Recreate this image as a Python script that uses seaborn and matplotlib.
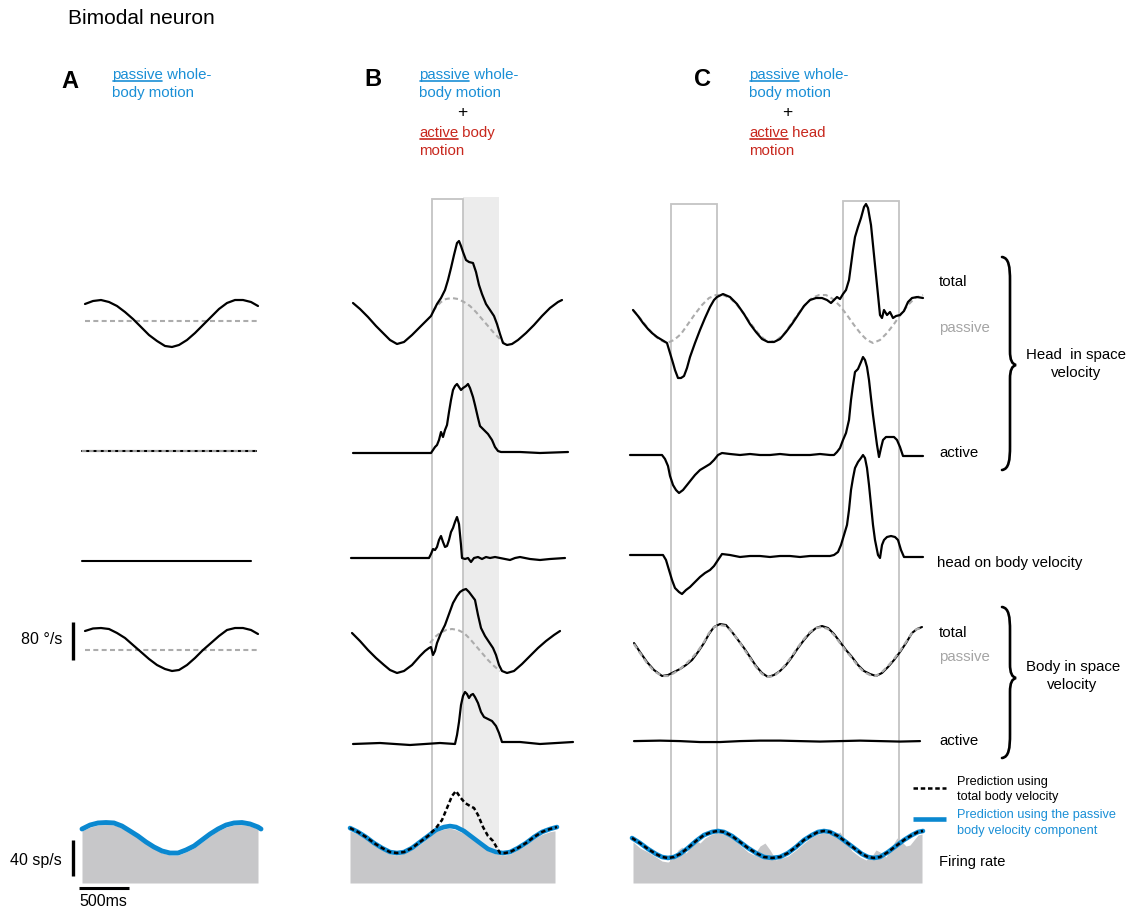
import matplotlib
matplotlib.use("Agg")
import matplotlib.pyplot as plt
import seaborn as sns
from matplotlib.path import Path
from matplotlib.patches import PathPatch, Rectangle
from matplotlib.lines import Line2D

# ======================= DATA (time in ms, velocity in deg/s, rate in sp/s) =======================
# ---- Panel A : passive whole-body motion ----
a_t = [30, 110, 190, 270, 350, 430, 510, 590, 670, 750, 830, 900, 970, 1050, 1130, 1210, 1290, 1370, 1450, 1530, 1610, 1690, 1760]
a_head_total = [35.8, 42.1, 44.2, 40.0, 31.6, 18.9, 4.2, -12.6, -29.5, -42.1, -52.6, -54.7, -50.5, -40.0, -25.3, -8.4, 8.4, 25.3, 37.9, 44.2, 44.2, 40.0, 31.6]
a_body_total = [40.0, 45.3, 46.3, 44.2, 35.8, 25.3, 10.5, -4.2, -18.9, -31.6, -40.0, -44.2, -42.1, -31.6, -16.8, 0.0, 14.7, 29.5, 42.1, 46.3, 46.3, 42.1, 33.7]
a_passive_t = [30, 1760]
a_passive = [0, 0]
a_head_active_t = [0, 1740]
a_head_active = [0, 0]
a_hob_t = [0, 1690]
a_hob = [0, 0]
a_rate_t = [0, 80, 160, 240, 320, 400, 480, 560, 640, 720, 800, 880, 960, 1040, 1120, 1200, 1280, 1360, 1440, 1520, 1600, 1680, 1760, 1790]
a_pred = [60.0, 64.4, 66.7, 67.2, 66.7, 63.3, 57.8, 52.2, 45.6, 40.0, 35.6, 33.3, 33.3, 36.7, 41.1, 47.8, 54.4, 60.0, 64.4, 66.7, 67.2, 65.6, 62.2, 60.0]
a_fill_t = [0, 80, 160, 240, 320, 400, 480, 560, 640, 720, 800, 880, 960, 1040, 1120, 1200, 1280, 1360, 1440, 1520, 1600, 1680, 1760]
a_fill = [58, 62, 64.5, 65, 64.5, 61, 55.5, 50, 43.5, 38, 33.5, 31, 31, 34.5, 39, 45.5, 52, 58, 62, 64.5, 65, 63.5, 60]

# ---- Panel B : passive whole-body + active body motion ----
b_head_total_t = [30, 100, 180, 260, 340, 400, 470, 540, 620, 700, 770, 810, 840, 870, 910, 950, 980, 1010, 1040, 1070, 1090, 1110, 1130, 1160, 1190, 1230, 1260, 1290, 1320, 1360, 1400, 1440, 1470, 1500, 1530, 1570, 1620, 1680, 1760, 1840, 1920, 2000, 2080, 2120]
b_head_total = [37.9, 25.3, 8.4, -10.5, -27.4, -40.0, -48.4, -44.2, -29.5, -12.6, 2.1, 10.5, 23.2, 35.8, 48.4, 65.3, 86.3, 111.6, 138.9, 164.2, 168.4, 157.9, 145.3, 128.4, 124.2, 122.1, 103.2, 75.8, 56.8, 35.8, 23.2, 10.5, -6.3, -27.4, -46.3, -50.5, -48.4, -40.0, -25.3, -8.4, 10.5, 27.4, 40.0, 44.2]
b_head_passive_t = [830, 870, 910, 960, 1020, 1080, 1140, 1200, 1260, 1320, 1380, 1440, 1500, 1540]
b_head_passive = [21.1, 31.6, 40.0, 46.3, 48.4, 46.3, 40.0, 31.6, 18.9, 4.2, -10.5, -25.3, -37.9, -46.3]
b_head_active_t = [30, 500, 810, 830, 850, 870, 890, 910, 930, 950, 970, 990, 1010, 1030, 1050, 1070, 1090, 1110, 1130, 1160, 1180, 1200, 1230, 1250, 1280, 1300, 1340, 1380, 1420, 1450, 1480, 1510, 1700, 1900, 2180]
b_head_active = [0, 0, 0, 6.3, 12.6, 16.8, 27.4, 44.2, 33.7, 48.4, 58.9, 86.3, 111.6, 132.6, 141.0, 145.3, 138.9, 132.6, 136.8, 141.0, 145.3, 136.8, 117.9, 101.0, 73.7, 56.8, 48.4, 40.0, 27.4, 12.6, 4.2, 2.1, 2.1, 0, 2.1]
b_hob_t = [10, 500, 790, 810, 830, 850, 870, 890, 910, 930, 950, 970, 990, 1010, 1030, 1050, 1070, 1090, 1110, 1120, 1150, 1180, 1210, 1240, 1280, 1320, 1360, 1400, 1450, 1500, 1600, 1650, 1700, 1800, 1900, 2000, 2150]
b_hob = [0, 0, 0, 8.4, 18.9, 16.8, 23.2, 37.9, 46.3, 33.7, 23.2, 25.3, 37.9, 54.7, 63.2, 75.8, 86.3, 71.6, 27.4, 0, -2.1, 0, -8.4, 0, 2.1, -2.1, 2.1, 0, 2.1, 0, -4.2, 0, 2.1, -2.1, -4.2, -2.1, 0]
b_body_total_t = [20, 100, 180, 260, 340, 400, 470, 540, 620, 700, 750, 790, 810, 830, 850, 870, 910, 950, 990, 1030, 1070, 1100, 1130, 1160, 1190, 1220, 1250, 1280, 1310, 1350, 1390, 1430, 1460, 1490, 1520, 1570, 1640, 1720, 1800, 1880, 1960, 2040, 2100]
b_body_total = [35.8, 18.9, 0, -16.8, -31.6, -42.1, -48.4, -44.2, -31.6, -12.6, -2.1, 4.2, 6.3, -10.5, -2.1, 14.7, 35.8, 52.6, 75.8, 98.9, 113.7, 122.1, 126.3, 128.4, 122.1, 113.7, 105.3, 73.7, 46.3, 29.5, 16.8, 4.2, -10.5, -31.6, -44.2, -48.4, -44.2, -29.5, -12.6, 4.2, 18.9, 31.6, 40.0]
b_body_passive_t = [800, 850, 900, 960, 1020, 1080, 1140, 1200, 1260, 1320, 1380, 1440, 1500]
b_body_passive = [14.7, 27.4, 35.8, 42.1, 44.2, 42.1, 35.8, 23.2, 8.4, -6.3, -21.1, -33.7, -44.2]
b_body_active_t = [30, 300, 600, 900, 1050, 1070, 1090, 1110, 1130, 1150, 1170, 1190, 1210, 1230, 1250, 1280, 1310, 1340, 1380, 1420, 1460, 1490, 1520, 1700, 1900, 2230]
b_body_active = [-2.1, 0, -4.2, 0, -2.1, 16.8, 44.2, 80.0, 98.9, 107.4, 103.2, 94.7, 101.0, 103.2, 96.8, 84.2, 65.3, 54.7, 50.5, 46.3, 35.8, 21.1, 2.1, 2.1, -2.1, 2.1]
b_rate_t = [0, 80, 160, 240, 320, 400, 470, 540, 620, 700, 780, 860, 940, 1000, 1060, 1140, 1220, 1300, 1380, 1460, 1530, 1600, 1680, 1760, 1840, 1920, 2000, 2070]
b_pred_passive = [61.1, 56.7, 51.1, 44.4, 38.9, 34.4, 33.3, 34.4, 38.9, 45.6, 52.2, 58.9, 62.2, 63.3, 62.2, 57.8, 51.1, 44.4, 37.8, 34.4, 33.3, 34.4, 38.9, 44.4, 51.1, 56.7, 60.0, 62.2]
b_pred_total_t = [0, 80, 160, 240, 320, 400, 470, 540, 620, 700, 780, 860, 920, 970, 1020, 1060, 1100, 1150, 1200, 1240, 1280, 1330, 1380, 1430, 1470, 1500, 1550, 1600, 1680, 1760, 1840, 1920, 2000, 2070]
b_pred_total = [61.1, 56.7, 51.1, 44.4, 38.9, 34.4, 33.3, 34.4, 38.9, 45.6, 52.2, 61.1, 70.0, 83.3, 96.7, 102.2, 95.6, 88.9, 85.6, 83.3, 75.6, 62.2, 52.2, 46.7, 38.9, 33.3, 33.3, 34.4, 38.9, 44.4, 51.1, 56.7, 60.0, 62.2]
b_fill_t = [0, 80, 160, 240, 320, 400, 470, 540, 620, 700, 780, 860, 940, 1000, 1060, 1140, 1220, 1300, 1380, 1460, 1530, 1600, 1680, 1760, 1840, 1920, 2000, 2050]
b_fill = [58, 54, 49, 42, 37, 32, 31, 33, 37, 43, 50, 57, 60, 61, 59, 55, 49, 42, 36, 32, 31, 32, 37, 42, 49, 54, 57, 58]
b_window = [820, 1130]          # outlined interval
b_band = [1130, 1490]           # shaded interval

# ---- Panel C : passive whole-body + active head motion ----
c_head_total_t = [30, 80, 130, 180, 220, 270, 320, 370, 400, 430, 450, 480, 510, 540, 570, 600, 650, 700, 750, 800, 840, 870, 930, 1000, 1070, 1140, 1200, 1260, 1320, 1380, 1440, 1500, 1560, 1620, 1680, 1740, 1800, 1860, 1920, 1970, 2010, 2040, 2070, 2100, 2130, 2160, 2190, 2210, 2230, 2250, 2280, 2310, 2340, 2360, 2380, 2410, 2440, 2470, 2500, 2520, 2540, 2570, 2600, 2630, 2660, 2700, 2740, 2780, 2820, 2870, 2930]
c_head_total = [23.2, 10.5, -4.2, -16.8, -25.3, -33.7, -40.0, -46.3, -67.4, -88.4, -103.2, -120.0, -120.0, -115.8, -98.9, -75.8, -46.3, -18.9, 6.3, 29.5, 44.2, 50.5, 56.8, 50.5, 35.8, 14.7, -6.3, -23.2, -37.9, -44.2, -44.2, -37.9, -23.2, -6.3, 12.6, 31.6, 44.2, 48.4, 48.4, 44.2, 37.9, 44.2, 50.5, 46.3, 56.8, 65.3, 86.3, 117.9, 149.5, 176.8, 197.9, 216.8, 240.0, 246.3, 237.9, 202.1, 138.9, 75.8, 12.6, 6.3, 23.2, 12.6, 18.9, 6.3, 10.5, 12.6, 21.1, 40.0, 48.4, 50.5, 48.4]
c_head_passive_t = [30, 100, 170, 240, 300, 370, 440, 510, 580, 650, 720, 790, 860, 930, 1000, 1070, 1140, 1210, 1280, 1340, 1400, 1470, 1540, 1610, 1680, 1750, 1820, 1890, 1960, 2030, 2100, 2170, 2240, 2310, 2370, 2430, 2500, 2570, 2640, 2710, 2780, 2850, 2930]
c_head_passive = [23.2, 6.3, -12.6, -29.5, -40.0, -46.3, -40.0, -27.4, -6.3, 14.7, 33.7, 48.4, 54.7, 54.7, 48.4, 33.7, 14.7, -6.3, -25.3, -37.9, -44.2, -40.0, -27.4, -6.3, 14.7, 33.7, 48.4, 54.7, 54.7, 46.3, 31.6, 12.6, -8.4, -27.4, -40.0, -46.3, -40.0, -25.3, -6.3, 14.7, 33.7, 48.4, 54.7]
c_head_active_t = [0, 200, 320, 350, 380, 400, 430, 460, 490, 530, 570, 610, 650, 700, 750, 800, 840, 880, 920, 1000, 1100, 1200, 1300, 1400, 1500, 1600, 1700, 1800, 1900, 2000, 2040, 2070, 2100, 2130, 2160, 2190, 2210, 2230, 2250, 2280, 2310, 2330, 2350, 2370, 2390, 2410, 2430, 2450, 2470, 2490, 2510, 2530, 2560, 2600, 2640, 2670, 2700, 2730, 2780, 2850, 2930]
c_head_active = [0, 0, 0, -8.4, -23.2, -44.2, -63.2, -73.7, -80.0, -73.7, -63.2, -52.6, -42.1, -31.6, -25.3, -18.9, -10.5, 0, 4.2, 2.1, 0, 2.1, 0, 0, 2.1, 0, 0, 0, 2.1, 0, 0, 6.3, 14.7, 31.6, 46.3, 73.7, 115.8, 147.4, 174.7, 181.1, 195.8, 206.3, 200.0, 185.3, 157.9, 120.0, 84.2, 52.6, 21.1, -4.2, 14.7, 31.6, 37.9, 37.9, 37.9, 31.6, 16.8, -2.1, -2.1, -2.1, -2.1]
c_hob_t = [0, 200, 330, 360, 390, 420, 450, 490, 520, 560, 600, 650, 700, 750, 800, 840, 880, 920, 1000, 1100, 1200, 1300, 1400, 1500, 1600, 1700, 1800, 1900, 2000, 2040, 2080, 2110, 2140, 2170, 2190, 2210, 2230, 2250, 2280, 2310, 2330, 2350, 2370, 2390, 2410, 2430, 2450, 2480, 2500, 2520, 2540, 2570, 2610, 2650, 2680, 2710, 2740, 2800, 2930]
c_hob = [2.1, 2.1, 2.1, -8.4, -29.5, -50.5, -67.4, -75.8, -80.0, -71.6, -65.3, -54.7, -44.2, -35.8, -29.5, -21.1, -8.4, 4.2, 2.1, -2.1, 0, 0, -2.1, 0, 0, -2.1, 0, 0, 0, 2.1, 8.4, 23.2, 44.2, 65.3, 96.8, 138.9, 164.2, 185.3, 197.9, 206.3, 212.6, 206.3, 185.3, 149.5, 107.4, 65.3, 33.7, 2.1, -4.2, 23.2, 33.7, 40.0, 42.1, 40.0, 33.7, 12.6, -2.1, -2.1, -2.1]
c_body_t = [40, 100, 170, 240, 320, 380, 440, 500, 560, 620, 680, 740, 790, 840, 900, 960, 1020, 1080, 1140, 1200, 1260, 1320, 1380, 1440, 1500, 1560, 1620, 1680, 1740, 1800, 1860, 1920, 1980, 2040, 2100, 2160, 2220, 2280, 2340, 2400, 2460, 2520, 2580, 2640, 2700, 2760, 2820, 2870, 2920]
c_body_total = [14.7, -4.2, -25.3, -42.1, -54.7, -52.6, -46.3, -40.0, -31.6, -21.1, -4.2, 14.7, 33.7, 48.4, 54.7, 52.6, 37.9, 21.1, 4.2, -14.7, -33.7, -48.4, -56.8, -52.6, -44.2, -31.6, -14.7, 4.2, 21.1, 35.8, 46.3, 50.5, 46.3, 33.7, 16.8, 0, -14.7, -31.6, -44.2, -50.5, -54.7, -48.4, -35.8, -21.1, -4.2, 14.7, 35.8, 44.2, 48.4]
c_body_passive = [12.6, -6.3, -27.4, -44.2, -54.7, -54.7, -48.4, -40.0, -29.5, -16.8, -2.1, 16.8, 35.8, 48.4, 52.6, 50.5, 37.9, 21.1, 2.1, -16.8, -35.8, -50.5, -56.8, -54.7, -44.2, -29.5, -12.6, 6.3, 23.2, 37.9, 46.3, 48.4, 44.2, 31.6, 14.7, -2.1, -16.8, -33.7, -46.3, -52.6, -54.7, -46.3, -33.7, -18.9, -2.1, 16.8, 35.8, 44.2, 46.3]
c_body_active_t = [40, 300, 500, 700, 900, 1100, 1300, 1500, 1700, 1900, 2100, 2300, 2500, 2700, 2900]
c_body_active = [4, 5, 4, 2, 2, 4, 5, 5, 4, 3, 4, 5, 4, 3, 4]
c_rate_t = [20, 100, 180, 260, 320, 380, 440, 500, 580, 660, 740, 820, 880, 940, 1020, 1100, 1180, 1260, 1340, 1420, 1500, 1580, 1660, 1740, 1820, 1880, 1940, 2000, 2080, 2160, 2240, 2320, 2380, 2440, 2500, 2580, 2660, 2740, 2820, 2880, 2930]
c_pred_passive = [50.0, 44.4, 37.8, 32.2, 28.9, 27.8, 28.9, 32.2, 38.9, 46.7, 53.3, 56.7, 57.8, 56.7, 52.2, 45.6, 38.9, 33.3, 28.9, 27.8, 28.9, 33.3, 40.0, 47.8, 53.3, 56.7, 57.8, 56.7, 52.2, 45.6, 38.9, 32.2, 28.9, 27.8, 28.9, 34.4, 41.1, 47.8, 53.3, 56.7, 57.8]
c_pred_total = [50.0, 44.4, 37.8, 32.2, 28.9, 27.8, 28.9, 32.2, 38.9, 46.7, 53.3, 56.7, 57.8, 56.7, 52.2, 45.6, 38.9, 33.3, 28.9, 27.8, 28.9, 33.3, 40.0, 47.8, 53.3, 56.7, 57.8, 56.7, 52.2, 45.6, 38.9, 32.2, 28.9, 27.8, 28.9, 34.4, 41.1, 47.8, 53.3, 56.7, 57.8]
c_fill_t = [30, 100, 180, 260, 320, 380, 440, 480, 520, 560, 600, 650, 700, 750, 820, 880, 940, 1020, 1100, 1180, 1240, 1300, 1350, 1400, 1460, 1520, 1580, 1660, 1740, 1820, 1880, 1940, 2000, 2060, 2100, 2150, 2220, 2300, 2360, 2420, 2460, 2500, 2560, 2620, 2670, 2720, 2760, 2800, 2840, 2880, 2920]
c_fill = [45.6, 38.9, 34.4, 28.9, 24.4, 23.3, 27.8, 36.7, 40.0, 33.3, 38.9, 47.8, 44.4, 50.0, 54.4, 55.6, 54.4, 50.0, 42.2, 34.4, 31.1, 41.1, 44.4, 36.7, 25.6, 27.8, 30.0, 36.7, 44.4, 51.1, 54.4, 55.6, 54.4, 54.4, 56.7, 47.8, 35.6, 28.9, 25.6, 30.0, 36.7, 34.4, 28.9, 41.1, 50.0, 45.6, 41.1, 42.2, 47.8, 53.3, 54.4]
c_windows = [[410, 870], [2130, 2690]]

# scale bars
scale_deg = 80     # deg/s
scale_rate = 40    # sp/s
scale_time = 500   # ms

# ======================= LAYOUT / STYLE =======================
W, H = 1129, 909
MS_PER_PX = 10.0
K_DEG = 38 / 80.0      # px per deg/s
K_RATE = 36 / 40.0     # px per sp/s

BLUE_TXT = '#1a8fd6'
BLUE_LINE = '#0a88d0'
RED_TXT = '#c8281e'
GRAY_DASH = '#acacac'
GRAY_FILL = '#c7c7c9'
BAND = '#ececec'
RECT = '#c4c4c4'
GRAY_TXT = '#a5a5a5'

sns.set_theme(style="white")
plt.rcParams['font.family'] = ['Liberation Sans', 'DejaVu Sans']

fig = plt.figure(figsize=(W / 100, H / 100), dpi=100)
fig.patch.set_facecolor('white')
_n = [0]
_axes = []


def new_axes(x0, yb=None, k=None):
    _n[0] += 1
    ax = fig.add_axes([0, 0, 1, 1], label=f"ax{_n[0]}")
    ax.patch.set_alpha(0)
    xl = (-x0 * MS_PER_PX, (W - x0) * MS_PER_PX)
    yl = (H, 0) if yb is None else (-(H - yb) / k, yb / k)
    _axes.append((ax, xl, yl))
    return ax


def trace(ax, t, v, color='black', lw=1.5, ls='-', z=3):
    sns.lineplot(x=t, y=v, ax=ax, color=color, linewidth=lw, linestyle=ls,
                 estimator=None, sort=False, legend=False, zorder=z)


DASH_GRAY = (0, (2.4, 1.6))
DASH_BLACK = (0, (1.8, 1.1))

# ---------- windows (drawn first, below everything) ----------
frame_b = new_axes(350)
frame_b.add_patch(Rectangle((b_band[0], 197), b_band[1] - b_band[0], 683, facecolor=BAND, edgecolor='none', zorder=0))
frame_b.add_patch(Rectangle((b_window[0], 199), b_window[1] - b_window[0], 679, fill=False, edgecolor=RECT, lw=1.3, zorder=1))
frame_c = new_axes(630)
for (w0, w1), top in zip(c_windows, [204, 201]):
    frame_c.add_patch(Rectangle((w0, top), w1 - w0, 878 - top, fill=False, edgecolor=RECT, lw=1.3, zorder=1))

# ---------- Panel A ----------
ax = new_axes(82, 321, K_DEG)
trace(ax, a_passive_t, a_passive, GRAY_DASH, 1.5, DASH_GRAY, 2)
trace(ax, a_t, a_head_total, lw=1.6)
ax = new_axes(82, 451, K_DEG)
trace(ax, a_head_active_t, a_head_active)
trace(ax, a_head_active_t, a_head_active, GRAY_DASH, 1.3, DASH_GRAY, 4)
ax = new_axes(82, 561, K_DEG)
trace(ax, a_hob_t, a_hob)
ax = new_axes(82, 650, K_DEG)
trace(ax, a_passive_t, a_passive, GRAY_DASH, 1.5, DASH_GRAY, 2)
trace(ax, a_t, a_body_total, lw=1.6)
ax.plot([-90, -90], [-21, -21 + scale_deg], color='black', lw=2.4, solid_capstyle='butt')
ax = new_axes(82, 883, K_RATE)
ax.fill_between(a_fill_t, 0, a_fill, color=GRAY_FILL, lw=0, zorder=1)
trace(ax, a_rate_t, a_pred, BLUE_LINE, 3.5)
ax.plot([-90, -90], [8, 8 + scale_rate], color='black', lw=2.4, solid_capstyle='butt')
ax.plot([-30, -30 + scale_time], [-5.5, -5.5], color='black', lw=2.2, solid_capstyle='butt')

# ---------- Panel B ----------
ax = new_axes(350, 321, K_DEG)
trace(ax, b_head_passive_t, b_head_passive, GRAY_DASH, 1.5, DASH_GRAY, 2)
trace(ax, b_head_total_t, b_head_total, lw=1.6)
ax = new_axes(350, 453, K_DEG)
trace(ax, b_head_active_t, b_head_active, lw=1.6)
ax = new_axes(350, 558, K_DEG)
trace(ax, b_hob_t, b_hob, lw=1.6)
ax = new_axes(350, 650, K_DEG)
trace(ax, b_body_passive_t, b_body_passive, GRAY_DASH, 1.5, DASH_GRAY, 2)
trace(ax, b_body_total_t, b_body_total, lw=1.6)
ax = new_axes(350, 743, K_DEG)
trace(ax, b_body_active_t, b_body_active, lw=1.6)
ax = new_axes(350, 883, K_RATE)
ax.fill_between(b_fill_t, 0, b_fill, color=GRAY_FILL, lw=0, zorder=1)
trace(ax, b_rate_t, b_pred_passive, BLUE_LINE, 3.3)
trace(ax, b_pred_total_t, b_pred_total, 'black', 1.8, DASH_BLACK, 4)

# ---------- Panel C ----------
ax = new_axes(630, 321, K_DEG)
trace(ax, c_head_passive_t, c_head_passive, GRAY_DASH, 1.5, DASH_GRAY, 2)
trace(ax, c_head_total_t, c_head_total, lw=1.6)
ax = new_axes(630, 455, K_DEG)
trace(ax, c_head_active_t, c_head_active, lw=1.6)
ax = new_axes(630, 556, K_DEG)
trace(ax, c_hob_t, c_hob, lw=1.6)
ax = new_axes(630, 650, K_DEG)
trace(ax, c_body_t, c_body_passive, GRAY_DASH, 1.6, DASH_GRAY, 4)
trace(ax, c_body_t, c_body_total, lw=1.5)
ax = new_axes(630, 743, K_DEG)
trace(ax, c_body_active_t, c_body_active, lw=1.6)
ax = new_axes(630, 883, K_RATE)
ax.fill_between(c_fill_t, 0, c_fill, color=GRAY_FILL, lw=0, zorder=1)
trace(ax, c_rate_t, c_pred_passive, BLUE_LINE, 3.3)
trace(ax, c_rate_t, c_pred_total, 'black', 1.8, DASH_BLACK, 4)

# ---------- annotation layer (pixel coordinates) ----------
ann = fig.add_axes([0, 0, 1, 1], label="ann")
ann.patch.set_alpha(0)
_axes.append((ann, (0, W), (H, 0)))


def brace(x0, ytop, ymid, ybot, depth=14):
    xm = x0 + 8
    verts = [(x0, ytop), (x0 + 7, ytop + 1), (xm, ytop + 10), (xm, ytop + 24),
             (xm, ymid - 14),
             (xm, ymid - 5), (xm + 2, ymid - 1), (x0 + depth, ymid),
             (xm + 2, ymid + 1), (xm, ymid + 5), (xm, ymid + 14),
             (xm, ybot - 24),
             (xm, ybot - 10), (x0 + 7, ybot - 1), (x0, ybot)]
    codes = [Path.MOVETO, Path.CURVE4, Path.CURVE4, Path.CURVE4, Path.LINETO,
             Path.CURVE4, Path.CURVE4, Path.CURVE4, Path.CURVE4, Path.CURVE4, Path.CURVE4,
             Path.LINETO, Path.CURVE4, Path.CURVE4, Path.CURVE4]
    ann.add_patch(PathPatch(Path(verts, codes), fill=False, lw=1.9, edgecolor='black', capstyle='round'))


brace(1002, 257, 365, 470)
brace(1002, 607, 678, 758)
# legend samples
ann.plot([913, 946], [788, 788], color='black', lw=1.8, ls=DASH_BLACK)
ann.plot([913, 946], [819, 819], color=BLUE_LINE, lw=3.3, solid_capstyle='butt')

for a, xl, yl in _axes:
    a.set_xlim(*xl)
    a.set_ylim(*yl)
    a.set_axis_off()


def T(x, y, s, size=10.8, color='black', ha='left', va='center', weight='normal'):
    return fig.text(x / W, 1 - y / H, s, fontsize=size, color=color, ha=ha, va=va, fontweight=weight)


renderer = fig.canvas.get_renderer()


def rich(x, y, parts, size=10.8):
    cx = x
    for txt, col, ul in parts:
        t = T(cx, y, txt, size, col)
        bb = t.get_window_extent(renderer)
        if ul:
            yy = (bb.y0 + 1.3) / H
            fig.add_artist(Line2D([(bb.x0 + 1) / W, (bb.x1 - 0.5) / W], [yy, yy],
                                  transform=fig.transFigure, color=col, lw=1.2))
        cx = bb.x1


T(68, 18, "Bimodal neuron", 15)
T(61, 82, "A", 17, weight='bold')
T(364, 80, "B", 17, weight='bold')
T(694, 80, "C", 17, weight='bold')

rich(112, 75, [("passive", BLUE_TXT, True), (" whole-", BLUE_TXT, False)])
T(112, 93, "body motion", color=BLUE_TXT)

rich(419, 75, [("passive", BLUE_TXT, True), (" whole-", BLUE_TXT, False)])
T(419, 93, "body motion", color=BLUE_TXT)
T(462, 113, "+", 12.5, ha='center')
rich(419, 133, [("active", RED_TXT, True), (" body", RED_TXT, False)])
T(419, 151, "motion", color=RED_TXT)

rich(749, 75, [("passive", BLUE_TXT, True), (" whole-", BLUE_TXT, False)])
T(749, 93, "body motion", color=BLUE_TXT)
T(787, 113, "+", 12.5, ha='center')
rich(749, 133, [("active", RED_TXT, True), (" head", RED_TXT, False)])
T(749, 151, "motion", color=RED_TXT)

T(939, 282, "total")
T(939, 328, "passive", color=GRAY_TXT)
T(939, 453, "active")
T(937, 563, "head on body velocity")
T(939, 633, "total")
T(939, 657, "passive", color=GRAY_TXT)
T(939, 741, "active")
T(1076, 355, "Head  in space", ha='center')
T(1076, 373, "velocity", ha='center')
T(1073, 667, "Body in space", ha='center')
T(1072, 685, "velocity", ha='center')

T(957, 782, "Prediction using", 9.2)
T(957, 797, "total body velocity", 9.2)
T(957, 815, "Prediction using the passive", 9.2, BLUE_TXT)
T(957, 831, "body velocity component", 9.2, BLUE_TXT)
T(939, 862, "Firing rate", 10.5)

T(62, 640, "80 °/s", 11.5, ha='right')
T(62, 861, "40 sp/s", 11.5, ha='right')
T(79, 901, "500ms", 11.5)

fig.savefig("out.png", dpi=100, facecolor='white')
